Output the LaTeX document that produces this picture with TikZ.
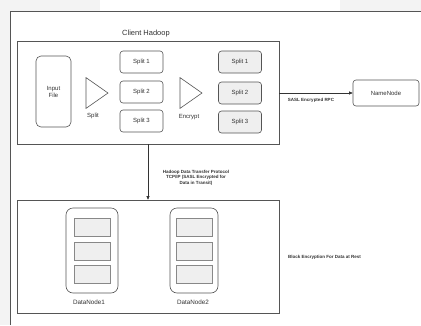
\documentclass[tikz,border=0pt]{standalone}
\usepackage{fontspec}
\setmainfont{Liberation Sans}
\usetikzlibrary{arrows.meta,shapes.geometric}
\definecolor{lineg}{HTML}{555555}
\definecolor{bgg}{HTML}{F3F3F3}
\definecolor{fillg}{HTML}{EFEFEF}
\definecolor{textg}{HTML}{333333}
\begin{document}
\begin{tikzpicture}[x=1pt,y=-1pt,
  every node/.style={text=textg},
  box/.style={draw=lineg,line width=0.6pt,rounded corners=3pt,inner sep=0pt,font=\fontsize{6}{7}\selectfont},
  splitbox/.style={box,minimum width=43pt,minimum height=22pt},
  gsplit/.style={splitbox,fill=fillg},
  frame/.style={draw=lineg,line width=0.6pt},
  block/.style={draw=lineg!70,fill=fillg,line width=0.5pt,minimum width=36pt,minimum height=18pt,inner sep=0pt},
  tri/.style={draw=lineg,line width=0.6pt,isosceles triangle,isosceles triangle apex angle=70,minimum height=22pt,inner sep=0pt},
  lab/.style={inner sep=0pt,font=\fontsize{6}{7}\selectfont},
  small/.style={inner sep=0pt,font=\fontsize{4.5}{5.4}\selectfont\bfseries,align=center},
  arr/.style={draw=black!80,line width=0.6pt,-{Triangle[length=3.5pt,width=3pt]}}]
\useasboundingbox (0,0) rectangle (421,325);
\fill[bgg] (0,0) rectangle (421,325);
\fill[white] (100,0) rectangle (340,11);
\fill[white] (10.5,11) rectangle (421,325);
\draw[frame] (10.5,325) -- (10.5,11) -- (421,11);
% client box
\node[frame,minimum width=262pt,minimum height=103pt,inner sep=0pt] (client) at (148,92.5) {};
\node[lab,font=\fontsize{7.5}{9}\selectfont] (clab) at (146,34) {Client Hadoop};
\node[box,minimum width=35pt,minimum height=71pt,rounded corners=5pt,align=center] (input) at (53.5,91.5) {Input\\File};
\node[tri] (t1) at (94,93) {};
\node[lab] (t1l) at (93,116) {Split};
\node[splitbox] (s1) at (141.5,62) {Split 1};
\node[splitbox] (s2) at (141.5,92) {Split 2};
\node[splitbox] (s3) at (141.5,121) {Split 3};
\node[tri] (t2) at (188,93) {};
\node[lab] (t2l) at (189,117) {Encrypt};
\node[gsplit] (e1) at (240,62) {Split 1};
\node[gsplit] (e2) at (240,93) {Split 2};
\node[gsplit] (e3) at (240,122) {Split 3};
% namenode
\node[box,minimum width=66pt,minimum height=26pt] (nn) at (386,93) {NameNode};
\draw[arr] (client.east |- nn) -- (nn.west);
\node[small] (rpc) at (311,100) {SASL Encrypted RPC};
% data box
\node[frame,minimum width=262pt,minimum height=113pt,inner sep=0pt] (data) at (148,256.5) {};
\draw[arr] (client.south) -- (data.north);
\node[small,font=\fontsize{4.5}{5.6}\selectfont\bfseries] (dtp) at (196,177.5) {Hadoop Data Transfer Protocol\\TCP/IP (SASL Encrypted for\\Data in Transit)};
% datanodes
\node[box,minimum width=52pt,minimum height=85pt,rounded corners=7pt] (dn1) at (92,250.5) {};
\node[block] (b11) at (92,227) {};
\node[block] (b12) at (92,251) {};
\node[block] (b13) at (92,274.5) {};
\node[lab,font=\fontsize{6.3}{7}\selectfont] (dn1l) at (89,302) {DataNode1};
\node[box,minimum width=48pt,minimum height=85pt,rounded corners=7pt] (dn2) at (194,250.5) {};
\node[block] (b21) at (194,227) {};
\node[block] (b22) at (194,251) {};
\node[block] (b23) at (194,274.5) {};
\node[lab,font=\fontsize{6.3}{7}\selectfont] (dn2l) at (193,302) {DataNode2};
\node[small,anchor=west] (rest) at (288,257) {Block Encryption For Data at Rest};
\end{tikzpicture}
\end{document}
